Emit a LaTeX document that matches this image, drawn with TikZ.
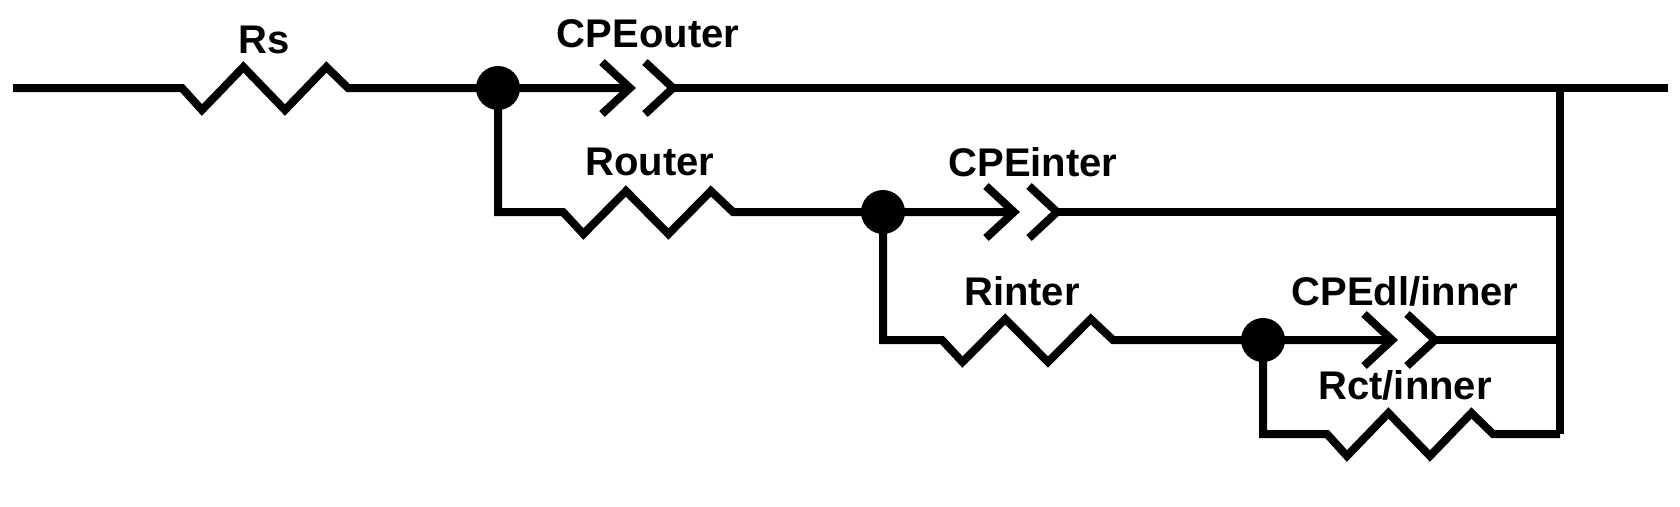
\documentclass[tikz,border=0pt]{standalone}
\usepackage{fontspec}
\setmainfont{Liberation Sans}
\begin{document}
\begin{tikzpicture}[x=1pt,y=-1pt,line width=8pt,line join=miter,
  lbl/.style={font=\fontsize{40}{42}\selectfont\bfseries,inner sep=0pt},
  dot/.style={circle,fill=black,minimum size=44pt,inner sep=0pt}]
\useasboundingbox (0,0) rectangle (1680,506);
\newcommand{\rs}[3]{-- (#1,#3) -- ++(0.12*#2-0.12*#1,22) -- ++(0.25*#2-0.25*#1,-43) -- ++(0.25*#2-0.25*#1,43) -- ++(0.25*#2-0.25*#1,-43) -- (#2,#3)}
\newcommand{\cpe}[2]{% tip x, y
  \draw (#1-28,#2-26) -- (#1,#2) -- (#1-28,#2+26);
  \draw (#1+15,#2-26) -- (#1+43,#2) -- (#1+15,#2+26);}
\coordinate (L) at (13,88);
\coordinate (R) at (1668,88);
\coordinate (B0) at (1560,88);
\coordinate (B1) at (1560,212);
\coordinate (B2) at (1560,340);
\coordinate (B3) at (1560,434);
\node[dot] (d1) at (498,88) {};
\node[dot] (d2) at (883,212) {};
\node[dot] (d3) at (1263,340) {};
% main line
\draw (L) \rs{182}{348}{88} -- (d1.center) -- (630,88); \cpe{630}{88}
\draw (673,88) -- (R);
\draw (B0) -- (B3);
% branch 1
\draw (d1.center) |- (563,212) \rs{563}{733}{212} -- (d2.center) -- (1014,212); \cpe{1014}{212}
\draw (1057,212) -- (B1);
% branch 2
\draw (d2.center) |- (942,340) \rs{942}{1113}{340} -- (d3.center) -- (1392,340); \cpe{1392}{340}
\draw (1435,340) -- (B2);
% branch 3
\draw (d3.center) |- (1327,434) \rs{1327}{1493}{434} -- (B3);
\node[lbl] (t1) at (264,40) {Rs};
\node[lbl] (t2) at (648,34) {CPEouter};
\node[lbl] (t3) at (650,162) {Router};
\node[lbl] (t4) at (1033,162) {CPEinter};
\node[lbl] (t5) at (1022,291) {Rinter};
\node[lbl] (t6) at (1405,291) {CPEdl/inner};
\node[lbl] (t7) at (1405,385) {Rct/inner};
\end{tikzpicture}
\end{document}
